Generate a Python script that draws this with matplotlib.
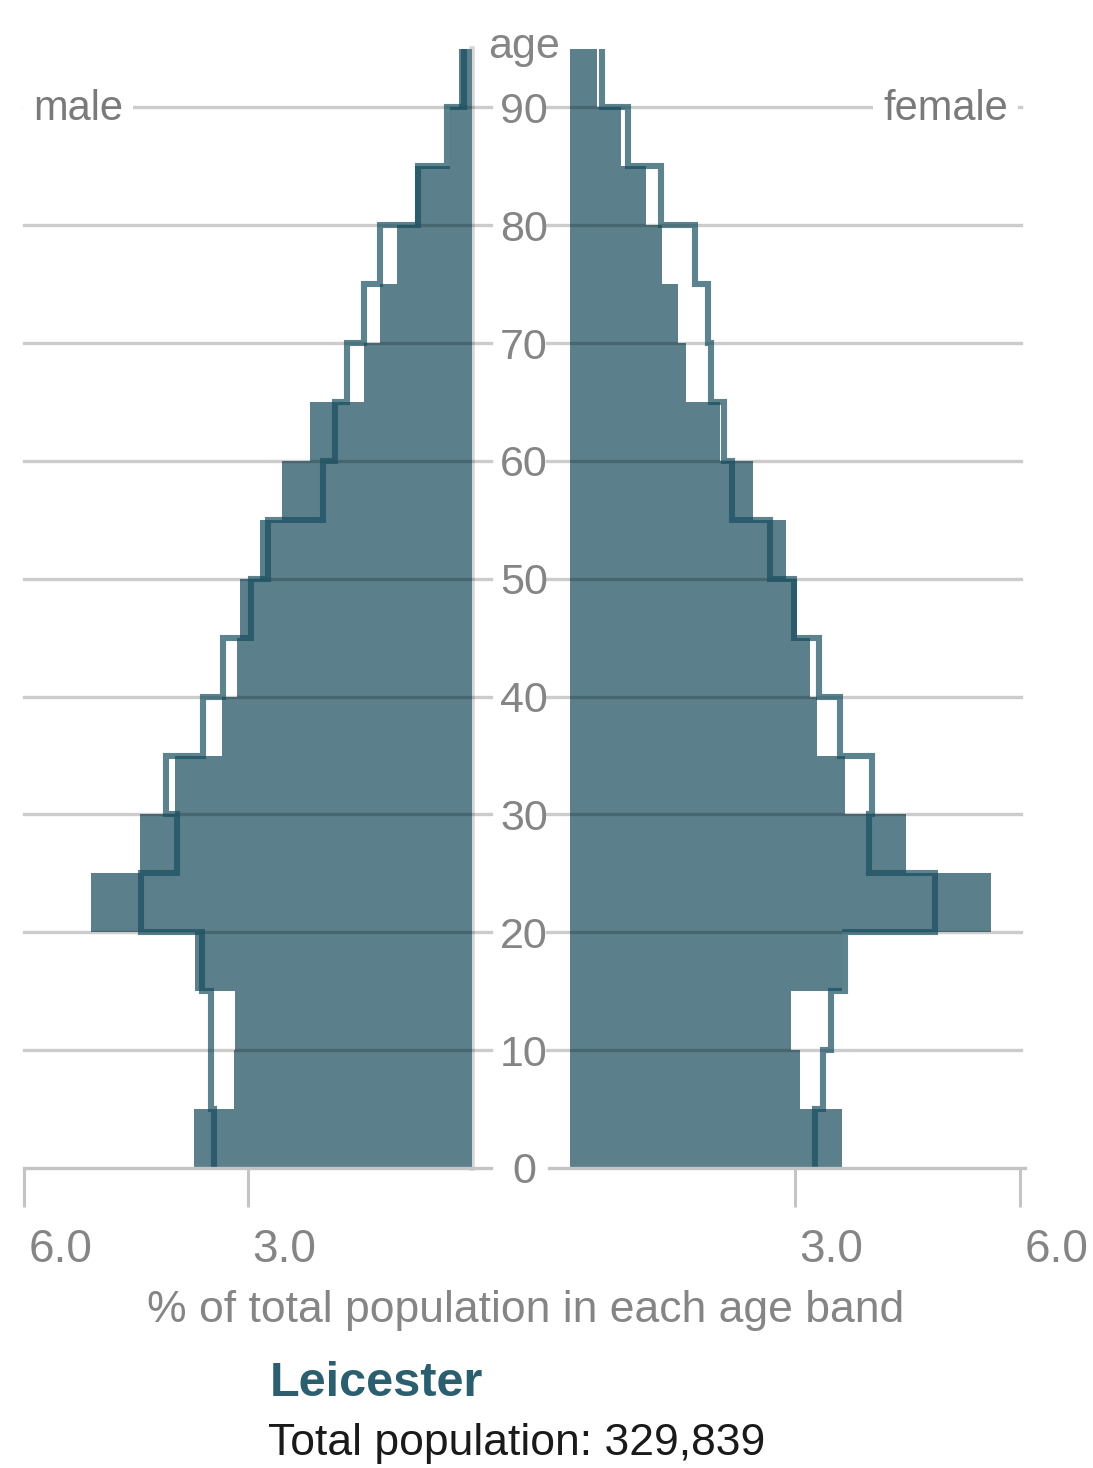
import matplotlib
matplotlib.use('Agg')
import matplotlib.pyplot as plt
import matplotlib.transforms as mtransforms
import numpy as np

plt.rcParams['font.family'] = ['Liberation Sans', 'DejaVu Sans']

# age bands 0-4 ... 85-89, 90+
band_start = [0, 5, 10, 15, 20, 25, 30, 35, 40, 45, 50, 55, 60, 65, 70, 75, 80, 85, 90]
band_width = 5

# Leicester (filled bars), % of total population
male_pct = [3.72, 3.19, 3.17, 3.71, 5.10, 4.44, 3.98, 3.35, 3.15, 3.11,
            2.84, 2.54, 2.17, 1.44, 1.23, 1.00, 0.76, 0.29, 0.17]
female_pct = [3.62, 3.06, 2.94, 3.62, 5.61, 4.48, 3.67, 3.29, 3.20, 3.03,
              2.88, 2.44, 2.00, 1.55, 1.44, 1.22, 1.01, 0.68, 0.36]

# comparison outline
male_cmp = [3.45, 3.49, 3.49, 3.61, 4.43, 3.95, 4.10, 3.60, 3.33, 2.96,
            2.73, 2.00, 1.84, 1.67, 1.45, 1.23, 0.72, 0.34, 0.11]
female_cmp = [3.26, 3.37, 3.48, 3.66, 4.87, 3.98, 4.03, 3.60, 3.32, 2.99,
              2.66, 2.16, 2.05, 1.88, 1.84, 1.66, 1.21, 0.77, 0.43]

age_ticks = [0, 10, 20, 30, 40, 50, 60, 70, 80, 90]
pct_ticks = [3.0, 6.0]
pct_tick_labels = ['3.0', '6.0']

area_name = 'Leicester'
total_pop = 329839

FILL = '#5b808c'
LINE = '#184e5e'
GREY_TXT = '#858585'
AXIS_GREY = '#c4c4c4'

W, H = 1093, 1468
fig = plt.figure(figsize=(W / 100, H / 100), dpi=100)


def fx(x):
    return x / W


def fy(y):
    return 1 - y / H


y0, y1 = 1168, 48.5
ax_m = fig.add_axes([fx(24), fy(y0), fx(472) - fx(24), (y0 - y1) / H])
ax_f = fig.add_axes([fx(570), fy(y0), fx(1020) - fx(570), (y0 - y1) / H])

edges = np.append(band_start, band_start[-1] + band_width)
step_y = np.repeat(edges, 2)[1:-1]

for ax, vals, cmp_vals, grid_ext, in [
        (ax_m, male_pct, male_cmp, (0, (491 - 24) / 448)),
        (ax_f, female_pct, female_cmp, ((547 - 570) / 450, 1.003))]:
    ax.barh(band_start, vals, height=band_width, align='edge',
            color=FILL, edgecolor='none', zorder=2)
    ax.plot(np.repeat(cmp_vals, 2), step_y, color=LINE, alpha=0.7, lw=4.4,
            solid_joinstyle='miter', solid_capstyle='butt', zorder=4)
    for a in age_ticks[1:]:
        ax.axhline(a, xmin=grid_ext[0], xmax=grid_ext[1], color='black',
                   alpha=0.2, lw=2.4, clip_on=False, zorder=3)
    ax.set_xlim(0, 6)
    ax.set_ylim(0, edges[-1])
    for s in ax.spines.values():
        s.set_visible(False)
    ax.set_yticks([])
    ax.set_xticks(pct_ticks)
    ax.tick_params(axis='x', direction='out', length=28, width=2.2,
                   color=AXIS_GREY, labelbottom=False)

ax_m.set_xlim(6, 0)
ax_m.axhline(0, xmin=0, xmax=(491 - 24) / 448, color=AXIS_GREY, lw=2.4,
             clip_on=False, zorder=5)
ax_f.axhline(0, xmin=(549 - 570) / 450, xmax=1.01, color=AXIS_GREY, lw=2.4,
             clip_on=False, zorder=5)
ax_m.axvline(0, color='#d6d6d6', lw=4, zorder=1, clip_on=False)

# age labels in the gap
trans_age = mtransforms.blended_transform_factory(fig.transFigure, ax_m.transData)
trans_age = mtransforms.offset_copy(trans_age, fig=fig, y=-11.1, units='points')
for a in age_ticks:
    fig.text(fx(524), a, str(a), transform=trans_age, ha='center',
             va='baseline', fontsize=31, color=GREY_TXT)
fig.text(fx(524), fy(58), 'age', ha='center', va='baseline',
         fontsize=31, color=GREY_TXT)

# x tick labels, to the right of each tick
for ax in (ax_m, ax_f):
    tr = mtransforms.blended_transform_factory(ax.transData, fig.transFigure)
    tr = mtransforms.offset_copy(tr, fig=fig, x=3.0, units='points')
    for v, lab in zip(pct_ticks, pct_tick_labels):
        ax.text(v, fy(1262), lab, transform=tr, ha='left', va='baseline',
                fontsize=33, color=GREY_TXT)

box = dict(boxstyle='square,pad=0.25', fc='white', ec='none')
fig.text(fx(33), fy(120), 'male', ha='left', va='baseline', fontsize=30,
         color='#7a7a7a', bbox=box)
fig.text(fx(1008), fy(120), 'female', ha='right', va='baseline', fontsize=30,
         color='#7a7a7a', bbox=box)

fig.text(fx(526), fy(1322), '% of total population in each age band',
         ha='center', va='baseline', fontsize=32, color=GREY_TXT)
fig.text(fx(270), fy(1396), area_name, ha='left', va='baseline',
         fontsize=35, fontweight='bold', color='#2b5e6e')
fig.text(fx(268), fy(1455), 'Total population: {:,}'.format(total_pop),
         ha='left', va='baseline', fontsize=32, color='#1a1a1a')

fig.savefig('out.png', dpi=100)
